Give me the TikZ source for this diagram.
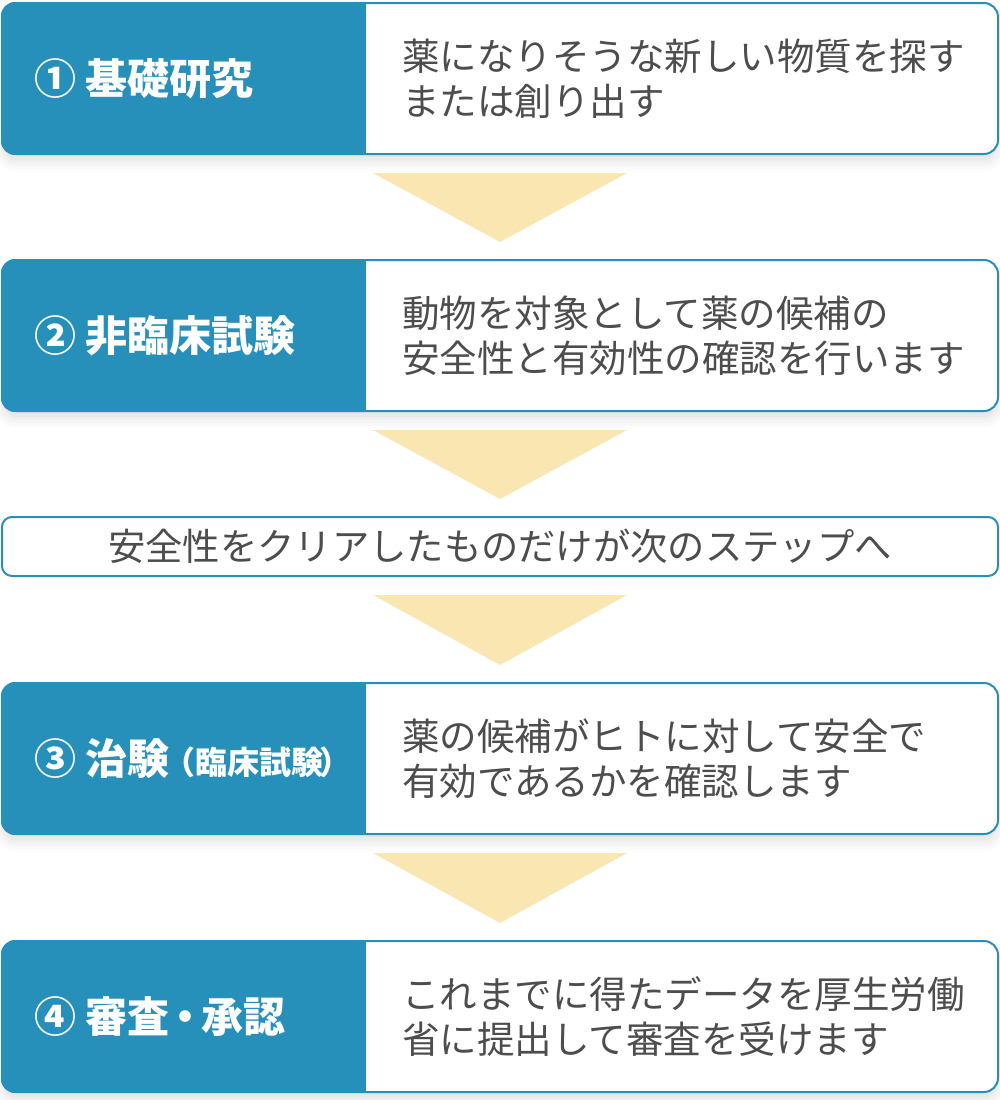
\documentclass[tikz,border=0pt]{standalone}
\usepackage{fontspec}
\setmainfont{Noto Sans CJK JP}
\usetikzlibrary{calc,shadows.blur}
\definecolor{stepblue}{HTML}{2690BB}
\definecolor{arrowyellow}{HTML}{FAE6B1}
\definecolor{textgray}{HTML}{4D4D4D}
\tikzset{
  stepbox/.style={draw=stepblue, line width=2pt, fill=white, rounded corners=14pt,
    minimum width=996pt, minimum height=151pt, inner sep=0pt,
    blur shadow={shadow xshift=0pt, shadow yshift=-8pt, shadow blur radius=10pt, shadow opacity=12}},
  notebox/.style={draw=stepblue, line width=2pt, fill=white, rounded corners=10pt,
    minimum width=996pt, minimum height=59pt, inner sep=0pt},
  steplabel/.style={anchor=west, inner sep=0pt, text=white, font=\fontsize{42}{45}\selectfont\bfseries},
  steptext/.style={anchor=west, inner sep=0pt, text=textgray, align=left, font=\fontsize{37.5}{45}\selectfont},
  notetext/.style={inner sep=0pt, text=textgray, font=\fontsize{37.3}{45}\selectfont}
}
\newcommand\numgap{\hspace{9pt}}
\begin{document}
\begin{tikzpicture}[x=1pt,y=-1pt]
\useasboundingbox (0,0) rectangle (1000,1100);

% boxes
\node[stepbox] (s1) at (500,78.5) {};
\node[stepbox] (s2) at (500,335.5) {};
\node[notebox] (n1) at (500,546.5) {};
\node[stepbox] (s3) at (500,758.5) {};
\node[stepbox] (s4) at (500,1016.5) {};

% blue left parts
\foreach \s in {s1,s2,s3,s4}{
  \begin{scope}
    \clip[rounded corners=14pt] (\s.north west) rectangle (\s.south east);
    \fill[stepblue] (\s.north west) rectangle ($(\s.south west)+(365,0)$);
  \end{scope}
}

% arrows
\foreach \a/\b in {s1/s2,s2/n1,n1/s3,s3/s4}
  \fill[arrowyellow] ($(\a.south)+(-127,18)$) -- ($(\a.south)+(127,18)$) -- ($(\b.north)+(0,-17)$) -- cycle;

% texts
\node[steplabel] (l1) at ($(s1.west)+(33,0)$) {①\numgap 基礎研究};
\node[steptext] (t1) at ($(s1.west)+(401,0)$) {薬になりそうな新しい物質を探す\\または創り出す};

\node[steplabel] (l2) at ($(s2.west)+(33,0)$) {②\numgap 非臨床試験};
\node[steptext] (t2) at ($(s2.west)+(401,0)$) {動物を対象として薬の候補の\\安全性と有効性の確認を行います};

\node[notetext] (nt) at (n1) {安全性をクリアしたものだけが次のステップへ};

\node[steplabel] (l3) at ($(s3.west)+(33,0)$) {③\numgap 治験{\fontsize{32}{34}\selectfont\hspace{-6pt}（臨床試験\hspace{-4pt}）}};
\node[steptext] (t3) at ($(s3.west)+(401,0)$) {薬の候補がヒトに対して安全で\\有効であるかを確認します};

\node[steplabel] (l4) at ($(s4.west)+(33,0)$) {④\numgap 審査\hspace{-5pt}・\hspace{-5pt}承認};
\node[steptext] (t4) at ($(s4.west)+(401,0)$) {これまでに得たデータを厚生労働\\省に提出して審査を受けます};
\end{tikzpicture}
\end{document}
